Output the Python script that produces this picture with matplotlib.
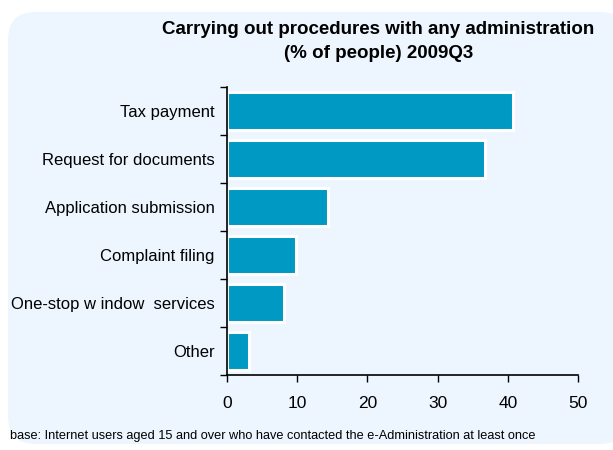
import matplotlib
matplotlib.use("Agg")
import matplotlib.pyplot as plt
from matplotlib.patches import FancyBboxPatch
import numpy as np

categories = ["Tax payment", "Request for documents", "Application submission",
              "Complaint filing", "One-stop w indow  services", "Other"]
values = [40.8, 36.8, 14.4, 9.8, 8.1, 3.2]
xticks = [0, 10, 20, 30, 40, 50]

plt.rcParams["font.family"] = ["Liberation Sans", "DejaVu Sans"]

fig = plt.figure(figsize=(6.13, 4.5), dpi=100)
fig.patch.set_facecolor("white")

# rounded background panel
panel = FancyBboxPatch((8 / 613, 6 / 450), 620 / 613, 432 / 450,
                       boxstyle="round,pad=0,rounding_size=0.045",
                       transform=fig.transFigure, facecolor="#edf5ff",
                       edgecolor="none", zorder=-10, mutation_aspect=613 / 450)
fig.add_artist(panel)

ax = fig.add_axes([227 / 613, 1 - 375 / 450, 351 / 613, 288 / 450])
ax.set_facecolor("none")
ax.set_zorder(1)

y = np.arange(len(categories))
ax.barh(y, values, height=0.78, color="#0099c4", edgecolor="white", linewidth=2.2)
ax.set_xlim(0, 50)
ax.set_ylim(len(categories) - 0.5, -0.5)

ax.set_xticks(xticks)
ax.set_xticklabels([str(t) for t in xticks], fontsize=12.5)
ax.set_yticks(y)
ax.set_yticklabels(categories, fontsize=12)
ax.tick_params(axis="y", length=0, pad=9)
ax.set_yticks(np.arange(len(categories) + 1) - 0.5, minor=True)
ax.tick_params(axis="y", which="minor", length=5, direction="out", width=1)
ax.tick_params(axis="x", length=5, direction="out", pad=10, width=1)

for side in ("top", "right"):
    ax.spines[side].set_visible(False)
for side in ("left", "bottom"):
    ax.spines[side].set_linewidth(1.2)

fig.text(0.617, 1 - 30 / 450, "Carrying out procedures with any administration",
         ha="center", va="center", fontsize=13.5, fontweight="bold")
fig.text(0.617, 1 - 53 / 450, "(% of people) 2009Q3",
         ha="center", va="center", fontsize=13.5, fontweight="bold")
fig.text(10 / 613, 1 - 436 / 450,
         "base: Internet users aged 15 and over who have contacted the e-Administration at least once",
         ha="left", va="center", fontsize=9.2)

fig.savefig("out.png", dpi=100)
